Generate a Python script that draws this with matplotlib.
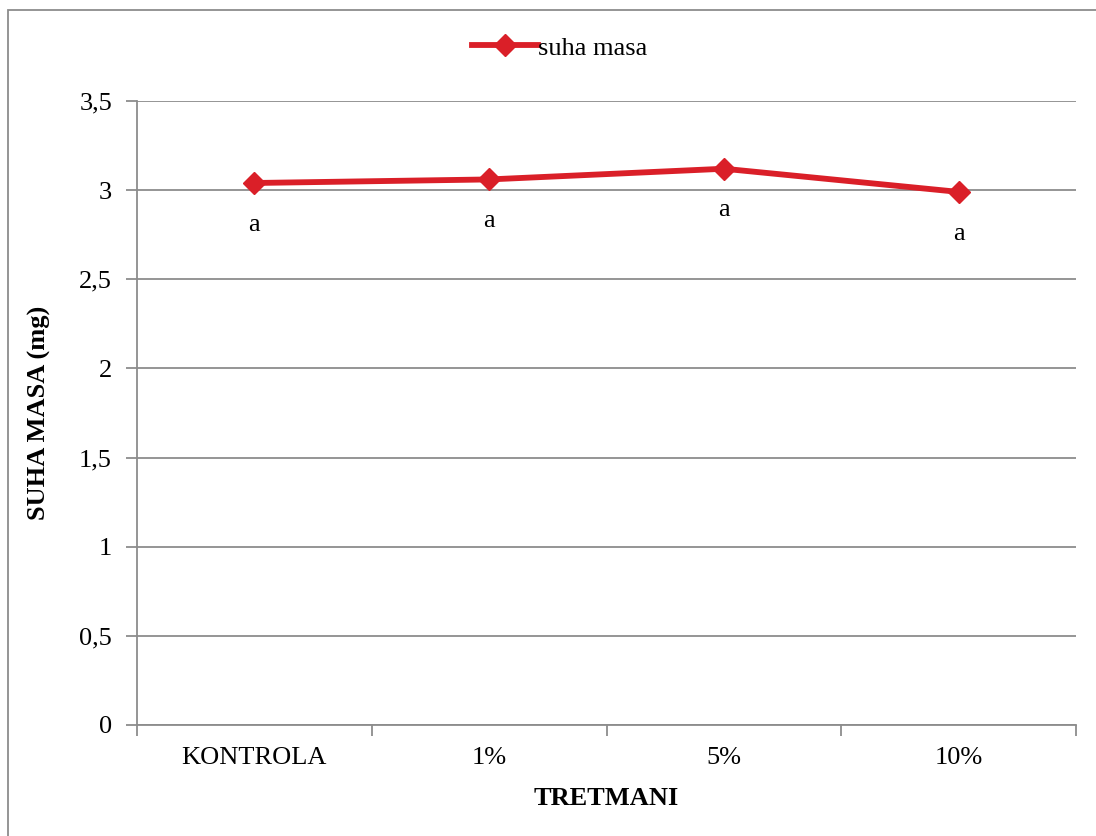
import numpy as np
import matplotlib.pyplot as plt
from matplotlib.patches import Rectangle

# data
tretmani = ["KONTROLA", "1%", "5%", "10%"]
suha_masa = [3.04, 3.06, 3.12, 2.99]
oznake = ["a", "a", "a", "a"]

plt.rcParams['font.family'] = ['Liberation Serif', 'DejaVu Serif']

fig = plt.figure(figsize=(10.96, 8.36), dpi=100)
ax = fig.add_axes([0.125, 0.1328, 0.8568, 0.7464])

# outer chart frame (left and top visible)
fig.patches.append(Rectangle((8 / 1096, -0.1), 1.2, (836 - 10) / 836 + 0.1,
                             transform=fig.transFigure, fill=False,
                             edgecolor="#8c8c8c", linewidth=1.3))

x = np.arange(len(tretmani))
ax.plot(x, suha_masa, color="#da1f28", linewidth=4.2, marker="D",
        markersize=11, label="suha masa", solid_joinstyle="round")

# letters under each point
for xi, yi, t in zip(x, suha_masa, oznake):
    ax.annotate(t, (xi, yi), xytext=(0, -30), textcoords="offset points",
                ha="center", va="center", fontsize=19)

ax.set_xlim(-0.5, len(tretmani) - 0.5)
ax.set_ylim(0, 3.5)
ax.set_yticks(np.arange(0, 3.51, 0.5))
ax.set_yticklabels([("%g" % v).replace(".", ",") for v in np.arange(0, 3.51, 0.5)])
ax.set_xticks(x)
ax.set_xticklabels(tretmani)
ax.set_xticks(np.arange(-0.5, len(tretmani)), minor=True)

ax.grid(axis="y", color="#8c8c8c", linewidth=1.3)
ax.set_axisbelow(True)
for s in ["top", "right"]:
    ax.spines[s].set_visible(False)
for s in ["left", "bottom"]:
    ax.spines[s].set_color("#8c8c8c")
    ax.spines[s].set_linewidth(1.3)

ax.tick_params(axis="x", which="major", length=0, pad=16, labelsize=19)
ax.tick_params(axis="x", which="minor", length=8, color="#8c8c8c", width=1.3)
ax.tick_params(axis="y", length=8, color="#8c8c8c", width=1.3, pad=10, labelsize=19)

ax.set_xlabel("TRETMANI", fontsize=19, fontweight="bold", labelpad=13)
ax.set_ylabel("SUHA MASA (mg)", fontsize=19, fontweight="bold", labelpad=20)

fig.legend(loc="center", bbox_to_anchor=(0.511, 0.9426), frameon=False,
           fontsize=19, handlelength=2.5, handletextpad=0.0)

fig.savefig("out.png", dpi=100)
